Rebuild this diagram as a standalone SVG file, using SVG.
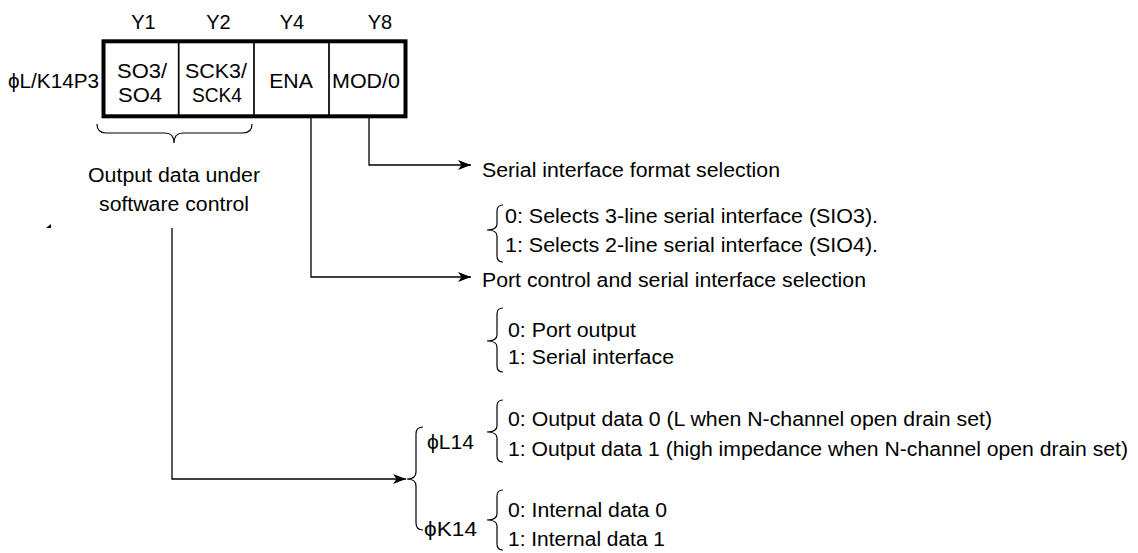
<svg xmlns="http://www.w3.org/2000/svg" width="1138" height="553" viewBox="0 0 1138 553">
<style>
text{font-family:"Liberation Sans",Arial,"DejaVu Sans",sans-serif;font-size:20px;fill:#000}
.m{text-anchor:middle}
.ln{fill:none;stroke:#000;stroke-width:1.3}
.br{fill:none;stroke:#000;stroke-width:1.2}
</style>
<defs>
<marker id="ah" markerUnits="userSpaceOnUse" markerWidth="14" markerHeight="11" refX="13" refY="5" orient="auto">
<path d="M0,0 L13,5 L0,10 L3.5,5 z" fill="#000"/>
</marker>
</defs>
<rect width="1138" height="553" fill="#fff"/>

<g id="register">
<rect x="103.5" y="41.3" width="302" height="75" fill="none" stroke="#000" stroke-width="4"/>
<line x1="178.7" y1="41" x2="178.7" y2="116" stroke="#000" stroke-width="1.7"/>
<line x1="254" y1="41" x2="254" y2="116" stroke="#000" stroke-width="1.7"/>
<line x1="329" y1="41" x2="329" y2="116" stroke="#000" stroke-width="1.7"/>
<text x="8" y="88" textLength="91" lengthAdjust="spacingAndGlyphs">ϕL/K14P3</text>
<text class="m" x="143.5" y="28.5">Y1</text>
<text class="m" x="218.5" y="28.5">Y2</text>
<text class="m" x="292" y="28.5">Y4</text>
<text class="m" x="380" y="28.5">Y8</text>
<text class="m" x="142" y="78" textLength="50" lengthAdjust="spacingAndGlyphs">SO3/</text>
<text class="m" x="140" y="101.5" textLength="44" lengthAdjust="spacingAndGlyphs">SO4</text>
<text class="m" x="216" y="78" textLength="62" lengthAdjust="spacingAndGlyphs">SCK3/</text>
<text class="m" x="217" y="101.5" textLength="50" lengthAdjust="spacingAndGlyphs">SCK4</text>
<text class="m" x="291" y="88" textLength="43.7" lengthAdjust="spacingAndGlyphs">ENA</text>
<text class="m" x="366" y="88" textLength="68" lengthAdjust="spacingAndGlyphs">MOD/0</text>
</g>

<g id="software">
<path class="br" d="M97,124 Q97,133 106,133 L165,133 Q174,133 174,143 Q174,133 183,133 L243,133 Q252,133 252,124"/>
<text class="m" x="174" y="182" textLength="172" lengthAdjust="spacingAndGlyphs">Output data under</text>
<text class="m" x="174" y="211" textLength="150" lengthAdjust="spacingAndGlyphs">software control</text>
<polygon points="46,228 51,228 51,224" fill="#000"/>
</g>

<g id="format">
<text x="482" y="176.5" textLength="298" lengthAdjust="spacingAndGlyphs">Serial interface format selection</text>
<path class="br" d="M503,205 Q497,205 497,211 L497,224 Q497,230 487,230 Q497,230 497,236 L497,256 Q497,262 503,262"/>
<text x="505" y="223.3" textLength="373" lengthAdjust="spacingAndGlyphs">0: Selects 3-line serial interface (SIO3).</text>
<text x="505" y="251.7" textLength="373" lengthAdjust="spacingAndGlyphs">1: Selects 2-line serial interface (SIO4).</text>
</g>

<g id="portctl">
<text x="482" y="286.7" textLength="384" lengthAdjust="spacingAndGlyphs">Port control and serial interface selection</text>
<path class="br" d="M503,308 Q497,308 497,314 L497,335 Q497,341 487,341 Q497,341 497,347 L497,366 Q497,372 503,372"/>
<text x="508" y="336.5" textLength="128" lengthAdjust="spacingAndGlyphs">0: Port output</text>
<text x="508" y="363.5" textLength="166" lengthAdjust="spacingAndGlyphs">1: Serial interface</text>
</g>

<g id="pins">
<path class="br" d="M423,427 Q416,427 416,434 L416,472 Q416,479 407,479 Q416,479 416,486 L416,523 Q416,530 423,530"/>
<text x="427" y="449" textLength="47" lengthAdjust="spacingAndGlyphs">ϕL14</text>
<text x="424" y="536" textLength="53" lengthAdjust="spacingAndGlyphs">ϕK14</text>
</g>

<g id="l14">
<path class="br" d="M503,400 Q497,400 497,406 L497,426 Q497,432 487,432 Q497,432 497,438 L497,456 Q497,462 503,462"/>
<text x="508" y="426" textLength="484" lengthAdjust="spacingAndGlyphs">0: Output data 0 (L when N-channel open drain set)</text>
<text x="508" y="455.5" textLength="620" lengthAdjust="spacingAndGlyphs">1: Output data 1 (high impedance when N-channel open drain set)</text>
</g>

<g id="k14">
<path class="br" d="M503,490 Q497,490 497,496 L497,514 Q497,520 487,520 Q497,520 497,526 L497,544 Q497,550 503,550"/>
<text x="508" y="517" textLength="159" lengthAdjust="spacingAndGlyphs">0: Internal data 0</text>
<text x="508" y="546" textLength="157" lengthAdjust="spacingAndGlyphs">1: Internal data 1</text>
</g>

<g id="connectors">
<path class="ln" d="M369,118 L369,165 L471,165" marker-end="url(#ah)"/>
<path class="ln" d="M311,118 L311,277 L471,277" marker-end="url(#ah)"/>
<path class="ln" d="M172,228 L172,479 L406,479" marker-end="url(#ah)"/>
</g>
</svg>
